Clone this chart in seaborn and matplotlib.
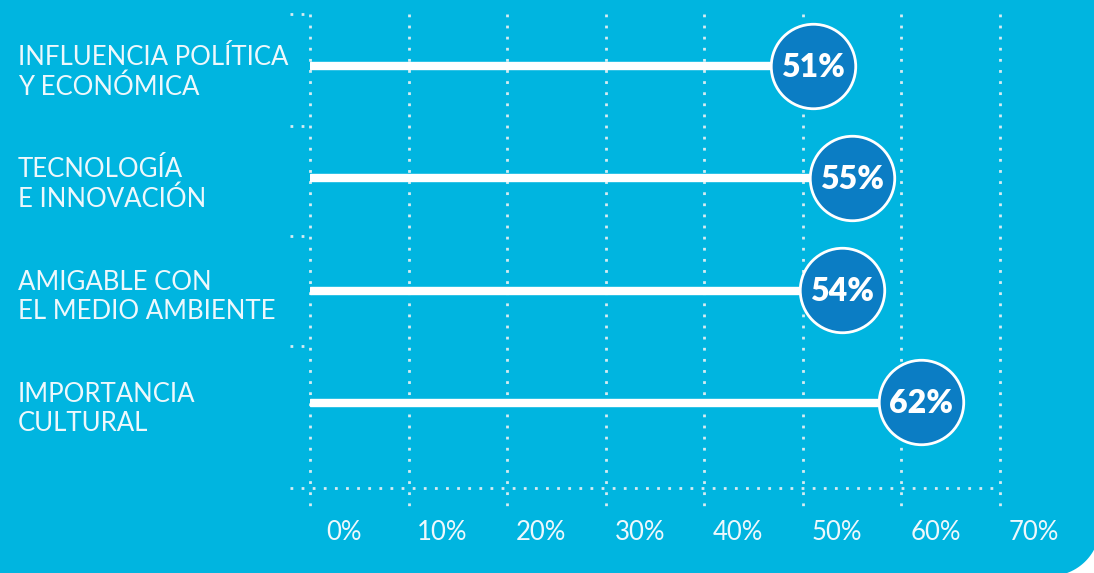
import matplotlib
matplotlib.use("Agg")
import matplotlib.pyplot as plt
import matplotlib.transforms as mtransforms
from matplotlib.patches import Polygon
import numpy as np
import pandas as pd
import seaborn as sns

categories = ["INFLUENCIA POLÍTICA\nY ECONÓMICA", "TECNOLOGÍA\nE INNOVACIÓN",
              "AMIGABLE CON\nEL MEDIO AMBIENTE", "IMPORTANCIA\nCULTURAL"]
values = [51, 55, 54, 62]
value_labels = ["51%", "55%", "54%", "62%"]
xticks = [0, 10, 20, 30, 40, 50, 60, 70]
xtick_labels = ["0%", "10%", "20%", "30%", "40%", "50%", "60%", "70%"]

BG = "#00b5e0"
CIRCLE = "#0b7dc4"
DOT = "#d6ecf2"
TXT = "#eef8fc"

sns.set_theme(style="white")
plt.rcParams['font.family'] = ['Lato', 'DejaVu Sans']

W, H = 1094, 573
fig = plt.figure(figsize=(W / 100, H / 100), dpi=100, facecolor=BG)
ax = fig.add_axes([310 / W, 1 - 508 / H, 690 / W, (508 - 14) / H])
ax.set_facecolor(BG)

df = pd.DataFrame({"cat": categories, "val": values})
sns.barplot(data=df, x="val", y="cat", orient="h", width=0.0625, color="white",
            saturation=1, ax=ax, zorder=3)
ax.set_xlim(0, 70)
ax.set_ylim(3.946, -0.464)

# circles
sns.scatterplot(x=values, y=list(range(len(values))), s=3700, color=CIRCLE,
                edgecolor="white", linewidth=2, ax=ax, zorder=4, legend=False,
                clip_on=False)
for i, (v, lab) in enumerate(zip(values, value_labels)):
    ax.text(v, i + 0.01, lab, ha="center", va="center", color="white",
            fontsize=23, fontweight="heavy", zorder=5)

# dotted grid
dot_kw = dict(color=DOT, linewidth=2, linestyle=(0, (1, 3)), clip_on=False, zorder=1)
for t in xticks:
    ax.plot([t, t], [-0.464, 3.946], **dot_kw)
x_left = -20 / 690 * 70
ax.plot([x_left, 70], [3.768, 3.768], **dot_kw)
for yv in [-0.464, 0.536, 1.518, 2.5]:
    ax.plot([x_left, 0], [yv, yv], **dot_kw)

for s in ax.spines.values():
    s.set_visible(False)
ax.set_ylabel("")
ax.set_xlabel("")
ax.set_yticks([])
ax.set_xticks(xticks)
ax.set_xticklabels(xtick_labels, color=TXT, fontsize=18.5, fontweight="normal")
ax.tick_params(axis="x", length=0, pad=9)
offset = mtransforms.ScaledTranslation(0.34, 0, fig.dpi_scale_trans)
for lbl in ax.get_xticklabels():
    lbl.set_transform(lbl.get_transform() + offset)

# category labels
btf = mtransforms.blended_transform_factory(fig.transFigure, ax.transData)
for i, c in enumerate(categories):
    ax.text(18 / W, i + 0.06, c, transform=btf, ha="left", va="center",
            color=TXT, fontsize=18.5, fontweight="normal", linespacing=1.2)

# rounded white corner bottom-right
cx, cy, r = 1050, 526, 50
ang = np.linspace(0, np.pi / 2, 40)
arc = [(cx + r * np.cos(a), cy + r * np.sin(a)) for a in ang]
pts = arc + [(1050, 700), (1200, 700), (1200, 526)]
pts = [(x / W, 1 - y / H) for x, y in pts]
fig.add_artist(Polygon(pts, closed=True, transform=fig.transFigure,
                       facecolor="white", edgecolor="none", zorder=10))

fig.savefig("out.png", dpi=100, facecolor=BG)
